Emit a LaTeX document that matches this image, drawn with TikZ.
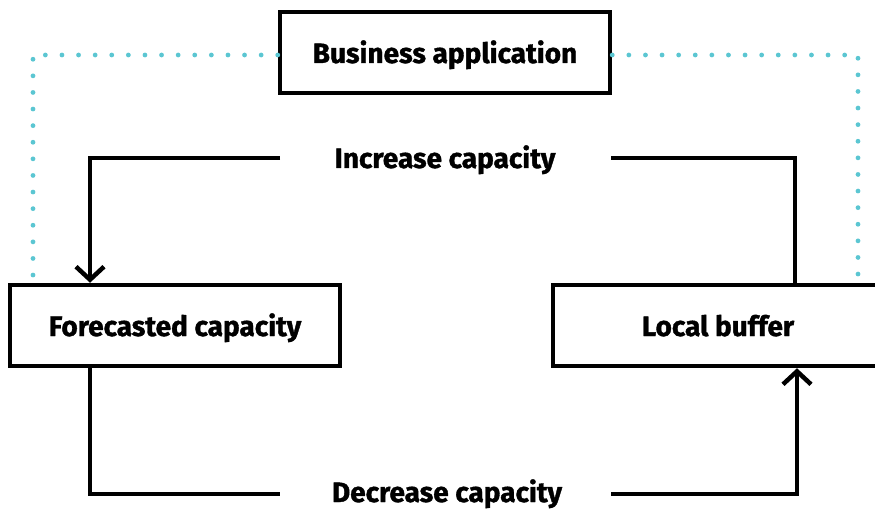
\documentclass[tikz,border=0pt]{standalone}
\usepackage{fontspec}
\setmainfont{Fira Sans}[BoldFeatures={FakeBold=1.3}]
\usetikzlibrary{arrows.meta}
\definecolor{teal}{HTML}{5BC6D2}
\tikzset{
  box/.style={draw=black, line width=4.5pt, minimum height=81pt, inner sep=0pt},
  lbl/.style={font=\fontsize{28}{32}\selectfont\bfseries, anchor=base, inner sep=0pt},
  conn/.style={draw=black, line width=4.5pt},
  arr/.style={conn, -{Straight Barb[length=13pt, width=28pt]}},
  dots/.style={draw=teal, line width=4.8pt, line cap=round, dash pattern=on 0pt off 16.6pt}
}
\begin{document}
\begin{tikzpicture}[x=1pt, y=-1pt]
\useasboundingbox (0,0) rectangle (875,513);
\clip (0,0) rectangle (875,513);
% boxes
\node[box, minimum width=330pt] (biz) at (445,52.5) {};
\node[box, minimum width=330pt] (fc) at (175,325.5) {};
\node[box, minimum width=328pt] (lb) at (717,325.5) {};
% box texts
\node[lbl] (biztxt) at (445,63) {Business application};
\node[lbl] (fctxt) at (175,336) {Forecasted capacity};
\node[lbl] (lbtxt) at (718,336) {Local buffer};
% connector labels
\node[lbl] (inc) at (445,168) {Increase capacity};
\node[lbl] (dec) at (447,502) {Decrease capacity};
% connector endpoints
\coordinate (incL) at (280,158);
\coordinate (incR) at (611,158);
\coordinate (decL) at (280,494);
\coordinate (decR) at (611,494);
\coordinate (dotL) at (33,55);
\coordinate (dotR) at (858,55);
\coordinate (dotLb) at (33,282);
\coordinate (dotRb) at (858,282);
% dotted teal
\draw[dots] ([yshift=-2.5pt]biz.west) -- (dotL) -- (dotLb);
\draw[dots] ([yshift=-2.5pt]biz.east) -- (dotR) -- (dotRb);
% increase
\draw[arr] (incL) -| ([xshift=-85pt]fc.north);
\draw[conn] (incR) -| ([xshift=78pt]lb.north);
% decrease
\draw[conn] ([xshift=-85pt]fc.south) |- (decL);
\draw[arr] (decR) -| ([xshift=80pt]lb.south);
\end{tikzpicture}
\end{document}
